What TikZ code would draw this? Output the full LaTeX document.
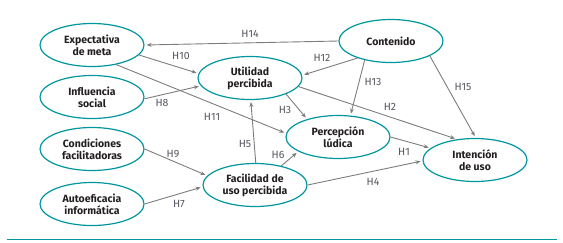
\documentclass[tikz,border=0pt]{standalone}
\usepackage{fontspec}
\setmainfont{Fira Sans}
\usepackage{xcolor}
\definecolor{ovalteal}{RGB}{0,150,158}
\definecolor{arrowgray}{RGB}{125,125,125}
\definecolor{labelgray}{RGB}{85,85,95}
\definecolor{textdark}{RGB}{35,31,32}
\usetikzlibrary{shapes.geometric, arrows.meta, positioning}

\begin{document}
\begin{tikzpicture}[
    x=1pt, y=-1pt,
    oval/.style={ellipse, draw=ovalteal, line width=1.2pt, minimum width=104pt, minimum height=43pt,
                inner sep=0pt, align=center, text=textdark, font=\fontsize{10.5}{12}\selectfont\bfseries},
    arrow/.style={-{Stealth[length=5pt, width=4pt]}, line width=0.9pt, color=arrowgray, shorten >=2pt},
    hlabel/.style={font=\fontsize{10.5}{12}\selectfont, text=labelgray, inner sep=0pt}
]
\useasboundingbox (0,0) rectangle (563,242);

% constructs
\node[oval] (expect) at (92,45)  {Expectativa\\de meta};
\node[oval] (social) at (92,97)  {Influencia\\social};
\node[oval] (condic) at (92,149) {Condiciones\\facilitadoras};
\node[oval] (autoef) at (92,204) {Autoeficacia\\informática};
\node[oval] (util)   at (250,78) {Utilidad\\percibida};
\node[oval] (facil)  at (255,185) {Facilidad de\\uso percibida};
\node[oval] (ludica) at (338,137) {Percepción\\lúdica};
\node[oval] (conten) at (391,41) {Contenido};
\node[oval] (intenc) at (475,160) {Intención\\de uso};

% hypotheses
\draw[arrow] (conten.180) -- (expect.0);
\draw[arrow] (expect.-12) -- (util.175);
\draw[arrow] (social.-2)  -- (util.189);
\draw[arrow] (expect.-39) -- (ludica.176);
\draw[arrow] (condic.0)   -- (facil.169);
\draw[arrow] (autoef.0)   -- (facil.182);
\draw[arrow] (facil.88)   -- (util.-88);
\draw[arrow] (facil.36)   -- (ludica.200);
\draw[arrow] (facil.0)    -- (intenc.181);
\draw[arrow] (util.-24)   -- (ludica.150);
\draw[arrow] (util.-10)   -- (intenc.131);
\draw[arrow] (conten.207) -- (util.3);
\draw[arrow] (conten.216) -- (ludica.60);
\draw[arrow] (conten.-21) -- (intenc.88);
\draw[arrow] (ludica.0)   -- (intenc.165);

\node[hlabel] (h14) at (250,34)  {H14};
\node[hlabel] (h10) at (181,56)  {H10};
\node[hlabel] (h8)  at (162,103) {H8};
\node[hlabel] (h11) at (212,117) {H11};
\node[hlabel] (h12) at (322,58)  {H12};
\node[hlabel] (h13) at (373,82)  {H13};
\node[hlabel] (h15) at (463,87)  {H15};
\node[hlabel] (h2)  at (390,107) {H2};
\node[hlabel] (h3)  at (285,110) {H3};
\node[hlabel] (h5)  at (245,144) {H5};
\node[hlabel] (h6)  at (278,155) {H6};
\node[hlabel] (h9)  at (173,154) {H9};
\node[hlabel] (h7)  at (179,204) {H7};
\node[hlabel] (h1)  at (404,152) {H1};
\node[hlabel] (h4)  at (373,182) {H4};

% rule below the figure
\coordinate (ruleL) at (7,239);
\coordinate (ruleR) at (557,239);
\draw[ovalteal, line width=1pt] (ruleL) -- (ruleR);

\end{tikzpicture}
\end{document}
